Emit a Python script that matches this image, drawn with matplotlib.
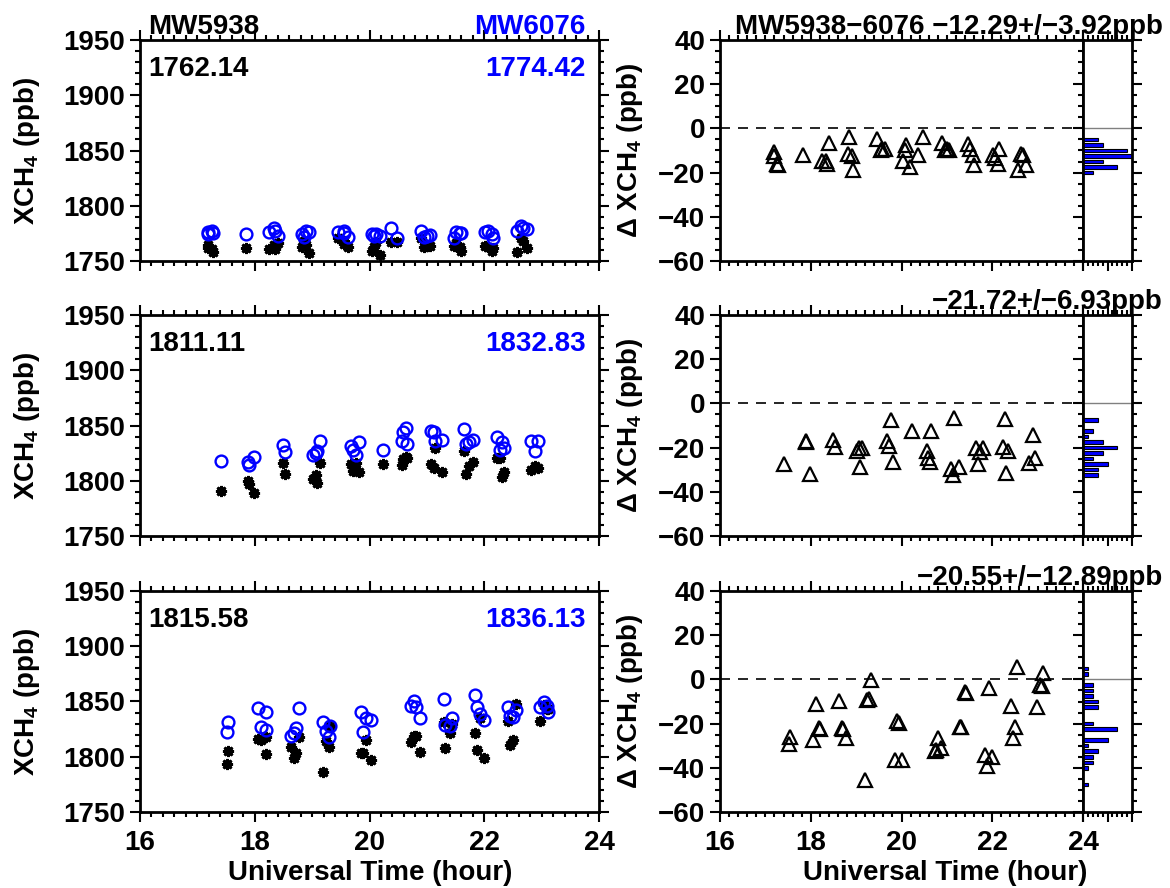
import numpy as np
import matplotlib
matplotlib.use("Agg")
import matplotlib.pyplot as plt
from matplotlib.ticker import MultipleLocator, NullFormatter

plt.rcParams['font.family'] = ['Liberation Sans', 'DejaVu Sans']
plt.rcParams['font.weight'] = 'bold'
plt.rcParams['mathtext.fontset'] = 'custom'
plt.rcParams['mathtext.rm'] = 'Liberation Sans'
plt.rcParams['mathtext.bf'] = 'Liberation Sans:bold'
plt.rcParams['mathtext.it'] = 'Liberation Sans:italic'
plt.rcParams['axes.unicode_minus'] = True

# ---------------- data ----------------
time_top = [17.19, 17.18, 17.25, 17.28, 17.84, 18.24, 18.33, 18.36, 18.40, 18.85, 18.83, 18.90, 18.94,
            19.45, 19.56, 19.63, 19.55, 20.11, 20.08, 20.04, 20.19, 20.37, 20.48, 20.90, 21.00, 21.05,
            20.95, 21.47, 21.50, 21.57, 21.60, 22.02, 22.06, 22.15, 22.13, 22.57, 22.64, 22.68, 22.75]
mw6076_top = [1775.8, 1774.2, 1776.7, 1775.2, 1774.2, 1775.8, 1779.7, 1777.0, 1772.7, 1772.0, 1774.0,
              1777.0, 1776.0, 1775.8, 1777.3, 1771.8, 1775.0, 1774.2, 1772.7, 1774.2, 1772.7, 1779.7,
              1771.2, 1777.3, 1772.7, 1773.6, 1772.0, 1771.2, 1775.8, 1775.0, 1775.5, 1775.8, 1776.7,
              1770.6, 1774.5, 1777.3, 1781.8, 1780.3, 1778.8]
mw5938_top = [1764.9, 1761.8, 1760.8, 1758.5, 1762.1, 1761.2, 1764.8, 1761.1, 1766.2, 1767.9, 1762.6,
              1764.7, 1757.1, 1770.9, 1768.2, 1762.7, 1765.3, 1766.9, 1762.8, 1759.4, 1755.3, 1767.6,
              1767.4, 1770.9, 1763.6, 1763.8, 1762.4, 1764.0, 1766.4, 1762.9, 1758.8, 1763.7, 1763.1,
              1761.5, 1758.6, 1758.4, 1770.4, 1768.2, 1762.1]
delta_top = [-10.9, -12.4, -15.9, -16.7, -12.1, -14.6, -14.9, -15.9, -6.5, -4.1, -11.4, -12.3, -18.9,
             -4.9, -9.1, -9.1, -9.7, -7.3, -9.9, -14.8, -17.4, -12.1, -3.8, -6.4, -9.1, -9.8, -9.6,
             -7.2, -9.4, -12.1, -16.7, -12.1, -13.6, -9.1, -15.9, -18.9, -11.4, -12.1, -16.7]

time_mid = [17.41, 17.89, 17.90, 17.98, 18.50, 18.53, 19.01, 19.06, 19.14, 19.08, 19.67, 19.72, 19.76,
            19.82, 20.24, 20.57, 20.59, 20.63, 20.66, 21.08, 21.15, 21.13, 21.26, 21.65, 21.73, 21.80,
            21.69, 22.23, 22.35, 22.28, 22.31, 22.81, 22.94, 22.89]
mw6076_mid = [1817.6, 1816.7, 1814.5, 1821.2, 1832.4, 1825.8, 1823.3, 1824.8, 1836.4, 1827.3, 1831.8,
              1827.9, 1823.3, 1834.8, 1827.9, 1835.8, 1843.9, 1847.9, 1833.3, 1844.8, 1836.4, 1843.9,
              1837.0, 1847.0, 1834.8, 1837.0, 1833.3, 1840.0, 1829.7, 1827.9, 1834.8, 1836.4, 1836.4,
              1827.3]
mw5938_mid = [1790.3, 1799.5, 1797.1, 1789.2, 1815.9, 1806.0, 1801.8, 1804.8, 1816.4, 1798.3, 1815.0,
              1808.4, 1815.8, 1808.3, 1815.6, 1814.4, 1819.3, 1821.6, 1820.9, 1815.0, 1829.9, 1811.4,
              1808.0, 1827.0, 1813.0, 1817.0, 1806.1, 1820.4, 1808.3, 1820.7, 1803.5, 1809.4, 1811.6,
              1813.0]
delta_mid = [-27.3, -17.2, -17.4, -32.0, -16.5, -19.8, -21.5, -20.0, -20.0, -29.0, -16.8, -19.5, -7.5,
             -26.5, -12.3, -21.4, -24.6, -26.3, -12.4, -29.8, -6.5, -32.5, -29.0, -20.0, -21.8, -20.0,
             -27.2, -19.6, -21.4, -7.2, -31.3, -27.0, -24.8, -14.3]

time_bot = [17.54, 17.51, 18.06, 18.11, 18.19, 18.20, 18.63, 18.68, 18.72, 18.77, 19.19, 19.25, 19.29,
            19.32, 19.89, 19.94, 19.85, 20.02, 20.81, 20.73, 20.77, 20.88, 21.32, 21.29, 21.40, 21.43,
            21.93, 21.84, 22.00, 21.88, 22.41, 22.50, 22.45, 22.55, 22.98, 23.05, 23.09, 23.11]
mw6076_bot = [1831.0, 1822.6, 1843.7, 1826.5, 1824.1, 1840.1, 1818.4, 1821.4, 1825.9, 1844.0, 1831.9,
              1823.5, 1818.1, 1828.0, 1822.6, 1834.9, 1840.1, 1833.1, 1845.2, 1846.1, 1850.6, 1835.5,
              1828.9, 1852.7, 1827.4, 1835.5, 1838.6, 1855.7, 1833.4, 1845.2, 1844.6, 1836.4, 1837.0,
              1842.2, 1845.2, 1849.1, 1846.0, 1840.7]
mw5938_bot = [1805.1, 1793.2, 1816.3, 1815.2, 1802.2, 1817.6, 1808.7, 1799.2, 1803.5, 1817.6, 1786.2,
              1814.4, 1809.1, 1827.8, 1803.7, 1815.1, 1803.7, 1796.7, 1818.5, 1813.8, 1818.7, 1804.3,
              1807.5, 1831.0, 1821.7, 1829.5, 1834.7, 1821.5, 1798.5, 1805.8, 1832.6, 1815.0, 1810.3,
              1847.7, 1832.8, 1846.7, 1843.0, 1843.5]
delta_bot = [-25.9, -29.4, -27.4, -11.3, -21.9, -22.5, -9.7, -22.2, -22.4, -26.4, -45.7, -9.1, -9.0,
             -0.2, -18.9, -19.8, -36.4, -36.4, -26.7, -32.3, -31.9, -31.2, -21.4, -21.7, -5.7, -6.0,
             -3.9, -34.2, -34.9, -39.4, -12.0, -21.4, -26.7, 5.5, -12.4, -2.4, -3.0, 2.8]

mean_5938 = ["1762.14", "1811.11", "1815.58"]
mean_6076 = ["1774.42", "1832.83", "1836.13"]
diff_labels = ["MW5938\u22126076 \u221212.29+/\u22123.92ppb",
               "\u221221.72+/\u22126.93ppb",
               "\u221220.55+/\u221212.89ppb"]
site_a = "MW5938"
site_b = "MW6076"

rows = [
    (time_top, mw5938_top, mw6076_top, delta_top),
    (time_mid, mw5938_mid, mw6076_mid, delta_mid),
    (time_bot, mw5938_bot, mw6076_bot, delta_bot),
]

# ---------------- layout ----------------
W, H = 1170, 888
fig = plt.figure(figsize=(W / 100, H / 100), dpi=100)

def rect(x0, y0, w, h):
    return [x0 / W, 1 - (y0 + h) / H, w / W, h / H]

tops = [40, 315, 591]
ph = 221
FS = 20
BLUE = (0, 0, 1)


def style(ax, xminor, yminor, xmaj, ymaj, right=True):
    ax.tick_params(which='both', direction='out', top=True, right=right,
                   width=1.5, labelsize=FS, pad=3.5)
    ax.tick_params(which='major', length=7)
    ax.tick_params(which='minor', length=3.5)
    ax.tick_params(axis='x', pad=6)
    ax.xaxis.set_major_locator(MultipleLocator(xmaj))
    ax.xaxis.set_minor_locator(MultipleLocator(xminor))
    ax.yaxis.set_major_locator(MultipleLocator(ymaj))
    ax.yaxis.set_minor_locator(MultipleLocator(yminor))
    for s in ax.spines.values():
        s.set_linewidth(2)


bin_edges = np.arange(-60, 40.01, 2.5)

for k, (t, a, b, d) in enumerate(rows):
    top = tops[k]
    # left panel
    ax = fig.add_axes(rect(140, top, 459, ph))
    ax.plot(t, a, ls='none', marker=(8, 2, 0), ms=8, mew=2.0, color='k')
    ax.plot(t, b, ls='none', marker='o', ms=8.5, mfc='none', mec=BLUE, mew=1.7)
    ax.set_xlim(16, 24)
    ax.set_ylim(1750, 1950)
    style(ax, 0.2, 10, 2, 50)
    if k < 2:
        ax.xaxis.set_major_formatter(NullFormatter())
    ax.text(8 / 459, 0.835, mean_5938[k], transform=ax.transAxes, fontsize=FS,
            ha='left', va='baseline', color='k')
    ax.text(446 / 459, 0.835, mean_6076[k], transform=ax.transAxes, fontsize=FS,
            ha='right', va='baseline', color=BLUE)
    if k == 0:
        ax.text(8 / 459, 1 + 6 / ph, site_a, transform=ax.transAxes, fontsize=FS,
                ha='left', va='baseline', color='k')
        ax.text(446 / 459, 1 + 6 / ph, site_b, transform=ax.transAxes, fontsize=FS,
                ha='right', va='baseline', color=BLUE)
    fig.text(27 / W, 1 - (top + ph / 2) / H, r"$\mathbf{XCH_4}$ (ppb)", rotation=90,
             ha='center', va='center', fontsize=FS)

    # right panel
    ar = fig.add_axes(rect(720, top, 363, ph))
    ar.axhline(0, color='k', lw=1.2, ls=(0, (6, 4.8)))
    ar.plot(t, d, ls='none', marker='^', ms=9.5, mfc='none', mec='k', mew=1.6)
    ar.set_xlim(16, 24)
    ar.set_ylim(-60, 40)
    style(ar, 0.2, 5, 2, 20, right=False)
    if k < 2:
        ar.xaxis.set_major_formatter(NullFormatter())
    fig.text(630 / W, 1 - (top + ph / 2) / H, r"$\Delta$ $\mathbf{XCH_4}$ (ppb)", rotation=90,
             ha='center', va='center', fontsize=FS)
    fig.text(1163 / W, 1 - (top - 6) / H, diff_labels[k], ha='right', va='baseline',
             fontsize=FS)

    # histogram panel
    ah = fig.add_axes(rect(1083, top, 49, ph))
    counts, _ = np.histogram(d, bins=bin_edges)
    keep = counts > 0
    ah.barh(bin_edges[:-1][keep], counts[keep], height=1.6, align='center',
            color=BLUE, edgecolor='k', linewidth=0.8)
    ah.axhline(0, color='gray', lw=1)
    ah.set_xlim(0, 10)
    ah.set_ylim(-60, 40)
    style(ah, 1, 5, 5, 20)
    ah.xaxis.set_major_formatter(NullFormatter())
    ah.yaxis.set_major_formatter(NullFormatter())

fig.text(370 / W, 1 - 873 / H, "Universal Time (hour)", ha='center', va='center', fontsize=FS)
fig.text(945 / W, 1 - 873 / H, "Universal Time (hour)", ha='center', va='center', fontsize=FS)

fig.savefig("out.png", dpi=100)
